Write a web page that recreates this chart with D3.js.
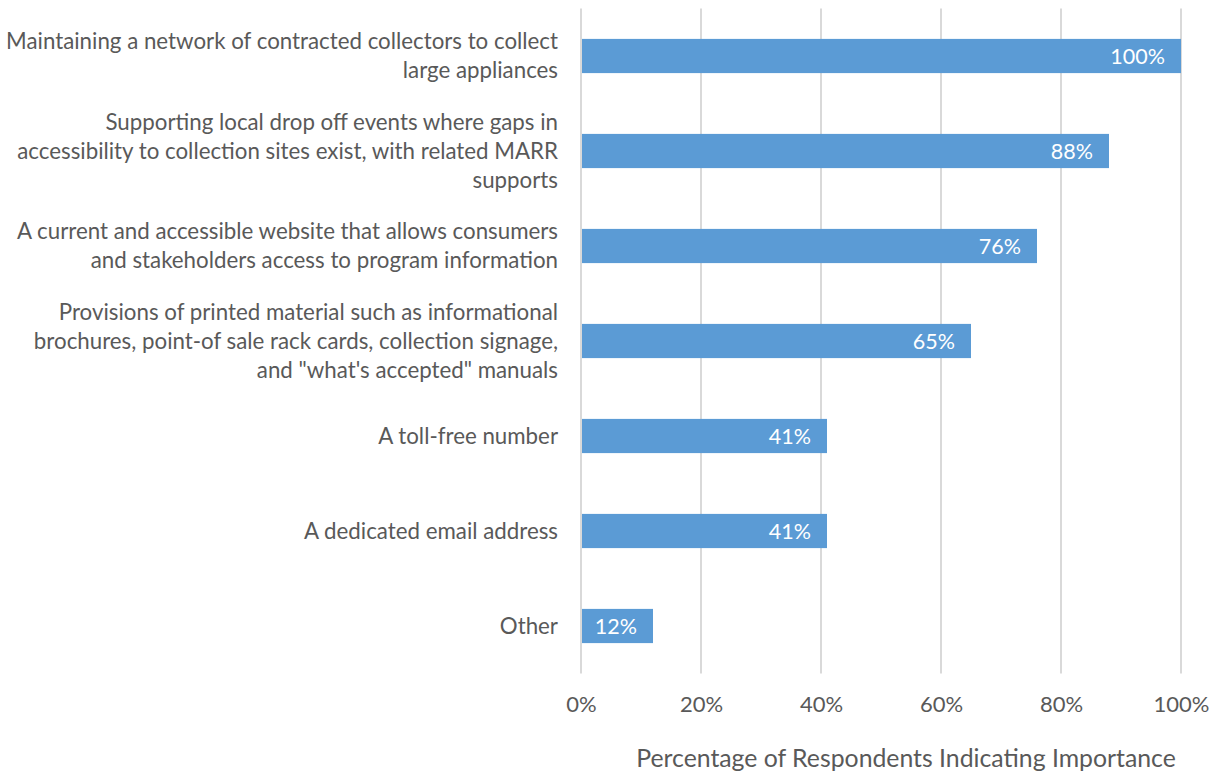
<!DOCTYPE html>
<html><head><meta charset="utf-8">
<script src="https://cdn.jsdelivr.net/npm/d3@7"></script>
<style>body{margin:0;background:#fff}svg{display:block}</style>
</head><body><svg id="c" width="1215" height="775"></svg>
<script>
const categories = [
  ["Maintaining a network of contracted collectors to collect","large appliances"],
  ["Supporting local drop off events where gaps in","accessibility to collection sites exist, with related MARR","supports"],
  ["A current and accessible website that allows consumers","and stakeholders access to program information"],
  ["Provisions of printed material such as informational","brochures, point-of sale rack cards, collection signage,","and \"what's accepted\" manuals"],
  ["A toll-free number"],
  ["A dedicated email address"],
  ["Other"]
];
const values = [100, 88, 76, 65, 41, 41, 12];
const ticks = [0, 20, 40, 60, 80, 100];
const axisTitle = "Percentage of Respondents Indicating Importance";

const font = "Lato, 'Open Sans', sans-serif";
const svg = d3.select("#c");
const m = {left:581, right:1181, top:8.5, bottom:673.5};
const x = d3.scaleLinear().domain([0,100]).range([m.left, m.right]);
const y = d3.scaleBand().domain(d3.range(categories.length)).range([m.top, m.bottom]).paddingInner(0.64).paddingOuter(0.32);

// gridlines
svg.append("g").selectAll("line").data(ticks).join("line")
  .attr("x1", d=>x(d)).attr("x2", d=>x(d))
  .attr("y1", m.top).attr("y2", m.bottom)
  .attr("stroke", "#d9d9d9").attr("stroke-width", 2);

// bars
svg.append("g").selectAll("rect").data(values).join("rect")
  .attr("x", x(0)+1).attr("y", (d,i)=>y(i))
  .attr("width", d=>x(d)-x(0)-1).attr("height", y.bandwidth())
  .attr("fill", "#5b9bd5");

// data labels
svg.append("g").selectAll("text").data(values).join("text")
  .attr("x", d=>x(d)-16).attr("y", (d,i)=>y(i)+y.bandwidth()/2)
  .attr("dy", "0.35em").attr("text-anchor", "end")
  .attr("fill", "#fff").attr("font-family", font).attr("font-size", 21.5)
  .text(d=>d+"%");

// category labels
const cl = svg.append("g");
categories.forEach((lines,i)=>{
  const cy = y(i)+y.bandwidth()/2;
  const lh = 29;
  const t = cl.append("text").attr("text-anchor","end").attr("fill","#595959")
    .attr("font-family", font).attr("font-size", 22.3);
  lines.forEach((ln,j)=>{
    t.append("tspan").attr("x", 558)
      .attr("y", cy + (j-(lines.length-1)/2)*lh).attr("dy","0.35em").text(ln);
  });
});

// x axis tick labels
const ax = d3.axisBottom(x).tickValues(ticks).tickFormat(d=>d+"%").tickSize(0).tickPadding(0);
const g = svg.append("g").attr("transform", `translate(0,${m.bottom})`).call(ax);
g.select(".domain").remove();
g.selectAll("text").attr("font-family", font).attr("font-size", 22).attr("fill","#595959")
  .attr("y", 31).attr("dy","0.35em");

// axis title
svg.append("text").attr("x", 906).attr("y", 758).attr("dy","0.35em")
  .attr("text-anchor","middle").attr("fill","#595959").attr("font-family", font).attr("font-size", 24.8)
  .text(axisTitle);
</script></body></html>
